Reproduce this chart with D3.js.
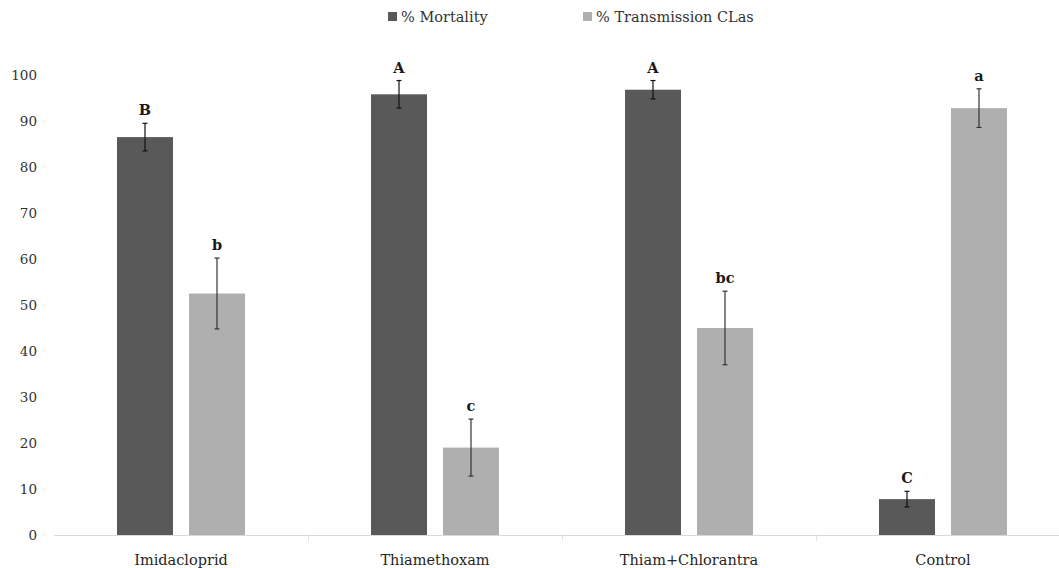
<!DOCTYPE html>
<html>
<head>
<meta charset="utf-8">
<script src="https://cdn.jsdelivr.net/npm/d3@7"></script>
<style>
  body { margin: 0; background: #fff; }
  svg { display: block; font-family: "Palatino Linotype", "Book Antiqua", Palatino, "DejaVu Serif", serif; }
</style>
</head>
<body>
<div id="chart"></div>
<script>
// data
var categories = ["Imidacloprid", "Thiamethoxam", "Thiam+Chlorantra", "Control"];
var mortality = [86.5, 95.8, 96.8, 7.8];
var mortalityErr = [3.0, 3.0, 2.0, 1.7];
var mortalityLetters = ["B", "A", "A", "C"];
var transmission = [52.5, 19.0, 45.0, 92.8];
var transmissionErr = [7.7, 6.2, 8.0, 4.2];
var transmissionLetters = ["b", "c", "bc", "a"];
var seriesNames = ["% Mortality", "% Transmission CLas"];
var yTicks = [0, 10, 20, 30, 40, 50, 60, 70, 80, 90, 100];

var width = 1059, height = 568;
var colors = ["#595959", "#afafaf"];

var svg = d3.select("#chart").append("svg")
    .attr("width", width)
    .attr("height", height);

// scales
var x = d3.scaleBand()
    .domain(categories)
    .range([54, 1070]);

var y = d3.scaleLinear()
    .domain([0, 100])
    .range([535, 75]);

var barW = 56, gap = 8;

// y tick labels (no axis line, no gridlines)
svg.append("g")
  .selectAll("text")
  .data(yTicks)
  .enter().append("text")
    .attr("x", 37)
    .attr("y", function(d) { return y(d); })
    .attr("dy", "0.35em")
    .attr("text-anchor", "end")
    .style("font-size", "13.5px")
    .style("fill", "#333")
    .text(function(d) { return d; });

// x axis line and ticks between categories
svg.append("line")
    .attr("x1", 54).attr("x2", width)
    .attr("y1", y(0) + 0.5).attr("y2", y(0) + 0.5)
    .style("stroke", "#d9d9d9");

svg.append("g")
  .selectAll("line")
  .data(categories.slice(1))
  .enter().append("line")
    .attr("x1", function(d) { return Math.round(x(d)) + 0.5; })
    .attr("x2", function(d) { return Math.round(x(d)) + 0.5; })
    .attr("y1", y(0)).attr("y2", y(0) + 6)
    .style("stroke", "#e3e3e3");

svg.append("g")
  .selectAll("text")
  .data(categories)
  .enter().append("text")
    .attr("x", function(d) { return x(d) + x.bandwidth() / 2; })
    .attr("y", 560)
    .attr("dy", "0.35em")
    .attr("text-anchor", "middle")
    .style("font-size", "14.5px")
    .style("fill", "#262626")
    .text(function(d) { return d; });

// build series
var series = [
  {values: mortality, err: mortalityErr, letters: mortalityLetters, offset: -(gap + barW)},
  {values: transmission, err: transmissionErr, letters: transmissionLetters, offset: gap}
];

series.forEach(function(s, si) {
  var g = svg.append("g");
  var rows = categories.map(function(c, i) {
    return {cat: c, v: s.values[i], e: s.err[i], l: s.letters[i]};
  });
  var cx = function(d) { return x(d.cat) + x.bandwidth() / 2 + s.offset; };

  g.selectAll("rect")
    .data(rows)
    .enter().append("rect")
      .attr("x", cx)
      .attr("y", function(d) { return y(d.v); })
      .attr("width", barW)
      .attr("height", function(d) { return y(0) - y(d.v); })
      .style("fill", colors[si]);

  // error bars
  var eb = g.selectAll(".err")
    .data(rows)
    .enter().append("g")
      .attr("class", "err")
      .style("stroke", si == 0 ? "#111" : "#333")
      .style("stroke-width", 1.2);
  eb.append("line")
    .attr("x1", function(d) { return cx(d) + barW / 2; })
    .attr("x2", function(d) { return cx(d) + barW / 2; })
    .attr("y1", function(d) { return y(d.v + d.e); })
    .attr("y2", function(d) { return y(d.v - d.e); });
  eb.append("line")
    .attr("x1", function(d) { return cx(d) + barW / 2 - 2.5; })
    .attr("x2", function(d) { return cx(d) + barW / 2 + 2.5; })
    .attr("y1", function(d) { return y(d.v + d.e); })
    .attr("y2", function(d) { return y(d.v + d.e); });
  eb.append("line")
    .attr("x1", function(d) { return cx(d) + barW / 2 - 2.5; })
    .attr("x2", function(d) { return cx(d) + barW / 2 + 2.5; })
    .attr("y1", function(d) { return y(d.v - d.e); })
    .attr("y2", function(d) { return y(d.v - d.e); });

  // significance letters
  g.selectAll(".lab")
    .data(rows)
    .enter().append("text")
      .attr("class", "lab")
      .attr("x", function(d) { return cx(d) + barW / 2; })
      .attr("y", function(d) { return y(d.v + d.e) - 8; })
      .attr("text-anchor", "middle")
      .style("font-size", "14.5px")
      .style("font-weight", "bold")
      .style("fill", "#1a1a1a")
      .text(function(d) { return d.l; });
});

// legend
var legendX = [388, 583];
var legend = svg.append("g")
  .selectAll("g")
  .data(seriesNames)
  .enter().append("g")
    .attr("transform", function(d, i) { return "translate(" + legendX[i] + ",17)"; });
legend.append("rect")
    .attr("x", 0).attr("y", -5)
    .attr("width", 9).attr("height", 9)
    .style("fill", function(d, i) { return colors[i]; });
legend.append("text")
    .attr("x", 13)
    .attr("dy", "0.35em")
    .style("font-size", "14.5px")
    .style("fill", "#333")
    .text(function(d) { return d; });
</script>
</body>
</html>
